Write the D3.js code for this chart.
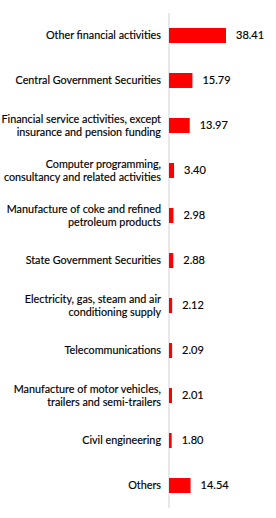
<!DOCTYPE html>
<html>
<head>
<meta charset="utf-8">
<script src="https://cdn.jsdelivr.net/npm/d3@7"></script>
<style>
  html, body { margin: 0; padding: 0; background: #fff; }
  svg text { font-family: Lato, "Noto Sans", sans-serif; fill: #000; stroke: #000; stroke-width: 0.15; }
</style>
</head>
<body>
<svg class="svgWrapper" width="276" height="518"></svg>
<script>
// sector names (line breaks as in the original)
const sectors = [
	'Other financial activities',
	'Central Government Securities',
	'Financial service activities, except\ninsurance and pension funding',
	'Computer programming,\nconsultancy and related activities',
	'Manufacture of coke and refined\npetroleum products',
	'State Government Securities',
	'Electricity, gas, steam and air\nconditioning supply',
	'Telecommunications',
	'Manufacture of motor vehicles,\ntrailers and semi-trailers',
	'Civil engineering',
	'Others'
];
const shares = [38.41, 15.79, 13.97, 3.40, 2.98, 2.88, 2.12, 2.09, 2.01, 1.80, 14.54];

const svgObj = d3.select('.svgWrapper');

const axisX = 169;
const xScale = d3.scaleLinear()
	.domain([0, d3.max(shares)])
	.range([axisX, 226]);

const yScale = d3.scaleBand()
	.domain(sectors)
	.range([13, 508])
	.paddingInner(0.667)
	.paddingOuter(0.333);

const rows = sectors.map((s, i) => ({ sector: s, value: shares[i] }));

// baseline
svgObj.append('line')
	.attr('x1', axisX).attr('x2', axisX)
	.attr('y1', 13).attr('y2', 508)
	.attr('stroke', '#d0d0d0')
	.attr('stroke-width', 1);

let rowG = svgObj.selectAll('g.row')
	.data(rows)
	.join('g')
	.attr('class', 'row')
	.attr('transform', d => `translate(0,${yScale(d.sector) + yScale.bandwidth() / 2})`);

rowG.append('rect')
	.attr('x', xScale(0))
	.attr('y', -yScale.bandwidth() / 2)
	.attr('width', d => xScale(d.value) - xScale(0))
	.attr('height', yScale.bandwidth())
	.attr('fill', '#ff0000');

rowG.append('text')
	.attr('x', d => xScale(d.value) + 10)
	.attr('dy', '0.35em')
	.attr('font-size', 11)
	.text(d => d.value.toFixed(2));

//category labels, possibly on two lines
rowG.append('text')
	.attr('text-anchor', 'end')
	.attr('font-size', 10.8)
	.each(function(d) {
		const lines = d.sector.split('\n');
		const lh = 13.4;
		const start = -(lines.length - 1) * lh / 2;
		d3.select(this).selectAll('tspan')
			.data(lines)
			.join('tspan')
			.attr('x', 161)
			.attr('y', (l, j) => start + j * lh)
			.attr('dy', '0.35em')
			.text(l => l);
	});
</script>
</body>
</html>
